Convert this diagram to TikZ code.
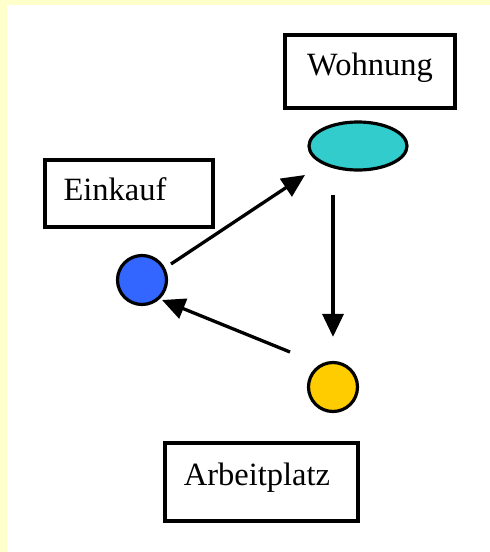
\documentclass[tikz,border=0pt]{standalone}
\usepackage{fontspec}
\setmainfont{Liberation Serif}
\usetikzlibrary{arrows.meta,calc,shapes.geometric}
\definecolor{bgyellow}{HTML}{FFFFCC}
\definecolor{tealfill}{HTML}{33CCCC}
\definecolor{bluefill}{HTML}{3366FF}
\definecolor{goldfill}{HTML}{FFCC00}
\begin{document}
\begin{tikzpicture}[x=1pt,y=-1pt,
  box/.style={draw=black,line width=3.4pt,fill=white,inner sep=0pt},
  txt/.style={anchor=base,inner sep=0pt,font=\fontsize{32.5}{38}\selectfont},
  dot/.style={circle,draw=black,line width=3.2pt,minimum size=49pt,inner sep=0pt},
  arr/.style={line width=3.3pt,-{Triangle[length=23pt,width=21pt]}}]
\fill[bgyellow] (0,0) rectangle (490,552);
\fill[white] (7,5) rectangle (490,552);
\useasboundingbox (0,0) rectangle (490,552);
\node[box,minimum width=170pt,minimum height=73pt] (wohn) at (370,71.5) {};
\node[txt] (wohnt) at (370,75) {Wohnung};
\node[box,minimum width=168pt,minimum height=67pt] (eink) at (129,193.5) {};
\node[txt] (einkt) at (115,200) {Einkauf};
\node[box,minimum width=193pt,minimum height=78pt] (arb) at (261.5,482) {};
\node[txt] (arbt) at (257,485) {Arbeitplatz};
\node[ellipse,draw=black,line width=3.2pt,fill=tealfill,minimum width=98pt,minimum height=48pt,inner sep=0pt] (teal) at (358,146) {};
\node[dot,fill=bluefill] (blue) at (142,280) {};
\node[dot,fill=goldfill] (gold) at (333,387) {};
\draw[arr] ($(blue.center)+(29,-16)$) -- ($(teal.center)+(-53,29)$);
\draw[arr] (gold |- teal.south) ++(0,23) -- ($(gold.north)+(0,-24)$);
\draw[arr] ($(gold.center)+(-43,-35)$) -- ($(blue.center)+(20,20)$);
\end{tikzpicture}
\end{document}
